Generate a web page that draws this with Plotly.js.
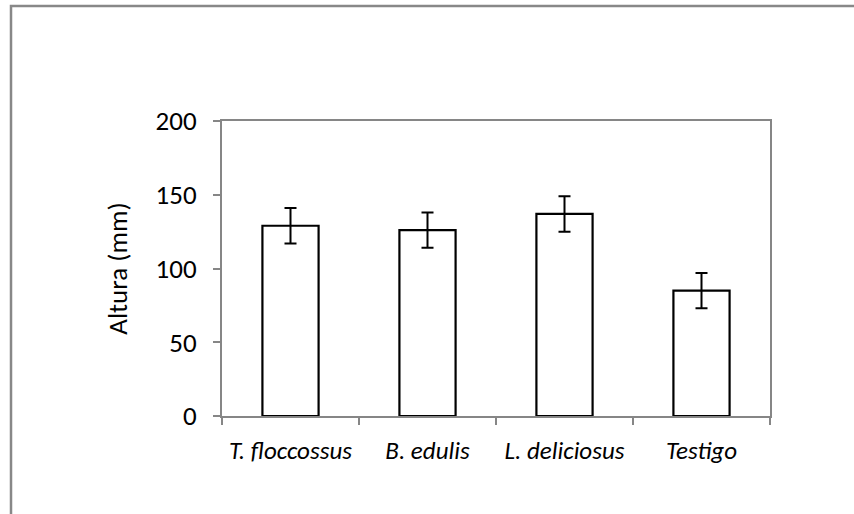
<!DOCTYPE html>
<html>
<head>
<meta charset="utf-8">
<script src="https://cdn.plot.ly/plotly-3.0.1.min.js"></script>
<style>html,body{margin:0;padding:0;background:#fff;}#chart{width:854px;height:514px;}</style>
</head>
<body>
<div id="chart"></div>
<script>
const categories = ["T. floccossus", "B. edulis", "L. deliciosus", "Testigo"];
const alturas = [129, 126, 137, 85];
const errores = [12, 12, 12, 12];
const yTicks = [0, 50, 100, 150, 200];

const trace = {
  type: "bar",
  x: categories,
  y: alturas,
  width: 0.41,
  marker: {color: "#ffffff", line: {color: "#000000", width: 2.2}},
  error_y: {type: "data", array: errores, visible: true, color: "#000000", thickness: 2, width: 6},
  hoverinfo: "none"
};

const font = "Carlito, Calibri, 'Open Sans', 'Liberation Sans', sans-serif";

const layout = {
  width: 854, height: 514,
  margin: {l: 222, r: 84, t: 121, b: 98},
  paper_bgcolor: "#ffffff", plot_bgcolor: "#ffffff",
  showlegend: false,
  font: {family: font, color: "#000000", size: 27},
  xaxis: {
    type: "category",
    tickson: "boundaries",
    tickangle: 0,
    ticks: "outside", ticklen: 7, tickcolor: "#868686", tickwidth: 2,
    showline: true, linecolor: "#868686", linewidth: 2, mirror: true,
    showgrid: false, zeroline: false,
    tickvals: categories,
    ticktext: categories.map(c => "<i>" + c + "</i>"),
    tickfont: {size: 25, family: font},
    ticklabelstandoff: 11
  },
  yaxis: {
    range: [0, 200],
    tickvals: yTicks,
    ticks: "outside", ticklen: 7, tickcolor: "#868686", tickwidth: 2,
    showline: true, linecolor: "#868686", linewidth: 2, mirror: true,
    showgrid: false, zeroline: false,
    tickfont: {size: 27, family: font},
    ticklabelstandoff: 11,
    title: {text: "Altura (mm)", font: {size: 27, family: font}, standoff: 20}
  },
  shapes: [{
    type: "rect", xref: "paper", yref: "paper",
    x0: (11 - 222) / 548, x1: 2, y0: -1, y1: (416 - 6) / 295,
    line: {color: "#888888", width: 2.5}, fillcolor: "rgba(0,0,0,0)", layer: "below"
  }]
};

Plotly.newPlot("chart", [trace], layout, {displayModeBar: false, staticPlot: true});
</script>
</body>
</html>
